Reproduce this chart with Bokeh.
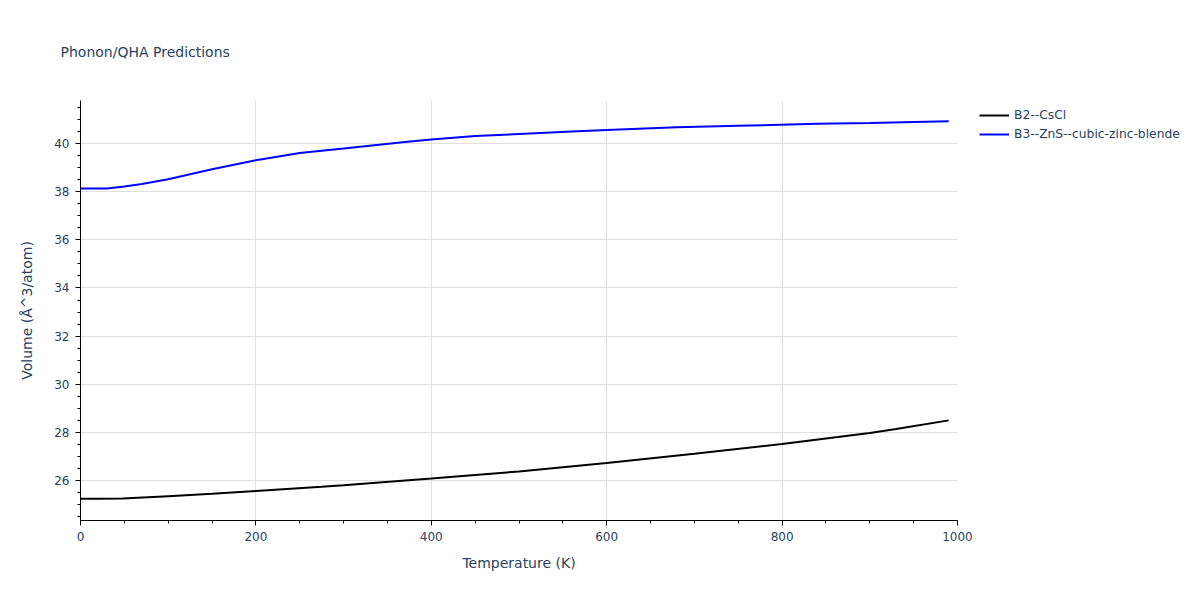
from bokeh.plotting import figure
from bokeh.models import FixedTicker, Legend, LegendItem, Range1d, Title
from bokeh.embed import file_html
from bokeh.resources import INLINE

# ---- data ----
temp_b2 = [0, 20, 48, 100, 150, 200, 275, 300, 400, 450, 500, 600, 700, 800, 900, 930, 990]
vol_b2 = [25.24, 25.24, 25.25, 25.35, 25.45, 25.57, 25.74, 25.80, 26.08, 26.23, 26.38, 26.73, 27.11, 27.52, 27.98, 28.14, 28.50]

temp_b3 = [0, 10, 30, 50, 70, 100, 150, 200, 250, 300, 370, 400, 450, 500, 560, 600, 680, 750, 840, 900, 990]
vol_b3 = [38.13, 38.13, 38.13, 38.22, 38.32, 38.52, 38.93, 39.31, 39.61, 39.80, 40.07, 40.17, 40.31, 40.40, 40.50, 40.56, 40.68, 40.74, 40.82, 40.86, 40.93]

series_names = ["B2--CsCl", "B3--ZnS--cubic-zinc-blende"]
series_colors = ["black", "#0000ff"]

x_major = [0, 200, 400, 600, 800, 1000]
y_major = [26, 28, 30, 32, 34, 36, 38, 40]

title_text = "Phonon/QHA Predictions"

FONT = "DejaVu Sans"
TXT = "#2a3f5f"

p = figure(
    frame_width=877, frame_height=420,
    min_border_left=80, min_border_right=235, min_border_top=100, min_border_bottom=72,
    output_backend="svg", toolbar_location=None,
    x_range=Range1d(0, 1000), y_range=Range1d(24.34, 41.79),
    background_fill_color="white", border_fill_color="white",
)
p.outline_line_color = None

t = Title(text=title_text, text_font=FONT, text_font_size="14px", text_line_height=1.0,
          text_color=TXT, text_font_style="normal", align="left", offset=-20, standoff=82)
p.add_layout(t, "above")

r1 = p.line(temp_b2, vol_b2, line_color=series_colors[0], line_width=2)
r2 = p.line(temp_b3, vol_b3, line_color=series_colors[1], line_width=2)

legend = Legend(items=[LegendItem(label=series_names[0], renderers=[r1]),
                       LegendItem(label=series_names[1], renderers=[r2])],
                location=(22, 378), border_line_color=None, background_fill_alpha=0,
                label_text_font=FONT, label_text_font_size="12.3px", label_text_color=TXT,
                glyph_width=30, glyph_height=16, label_standoff=5, spacing=3,
                padding=6, margin=0, label_height=16)
p.add_layout(legend, "right")

minor_x = [v for v in range(0, 1001, 50) if v not in x_major]
minor_y = [24.5 + 0.5 * i for i in range(35) if (24.5 + 0.5 * i) not in y_major]
p.xaxis.ticker = FixedTicker(ticks=x_major, minor_ticks=minor_x)
p.yaxis.ticker = FixedTicker(ticks=y_major, minor_ticks=minor_y)

for ax in (p.xaxis[0], p.yaxis[0]):
    ax.axis_line_color = "black"
    ax.axis_line_width = 1
    ax.major_tick_line_color = "black"
    ax.minor_tick_line_color = "black"
    ax.major_tick_out = 5
    ax.major_tick_in = 0
    ax.minor_tick_out = 3
    ax.minor_tick_in = 0
    ax.major_label_text_font = FONT
    ax.major_label_text_font_size = "12px"
    ax.major_label_text_color = TXT
    ax.axis_label_text_font = FONT
    ax.axis_label_text_font_size = "14px"
    ax.axis_label_text_color = TXT
    ax.axis_label_text_font_style = "normal"

p.xaxis.axis_label = "Temperature (K)"
p.yaxis.axis_label = "Volume (Å^3/atom)"
p.xaxis.axis_label_standoff = 11
p.yaxis.axis_label_standoff = 16
p.xaxis.major_label_standoff = 6
p.yaxis.major_label_standoff = 6

p.xgrid.grid_line_color = "#e0e0e0"
p.ygrid.grid_line_color = "#e0e0e0"
p.xgrid.ticker = FixedTicker(ticks=[200, 400, 600, 800])
p.ygrid.ticker = FixedTicker(ticks=y_major)

open("out.html", "w").write(file_html(p, INLINE))
